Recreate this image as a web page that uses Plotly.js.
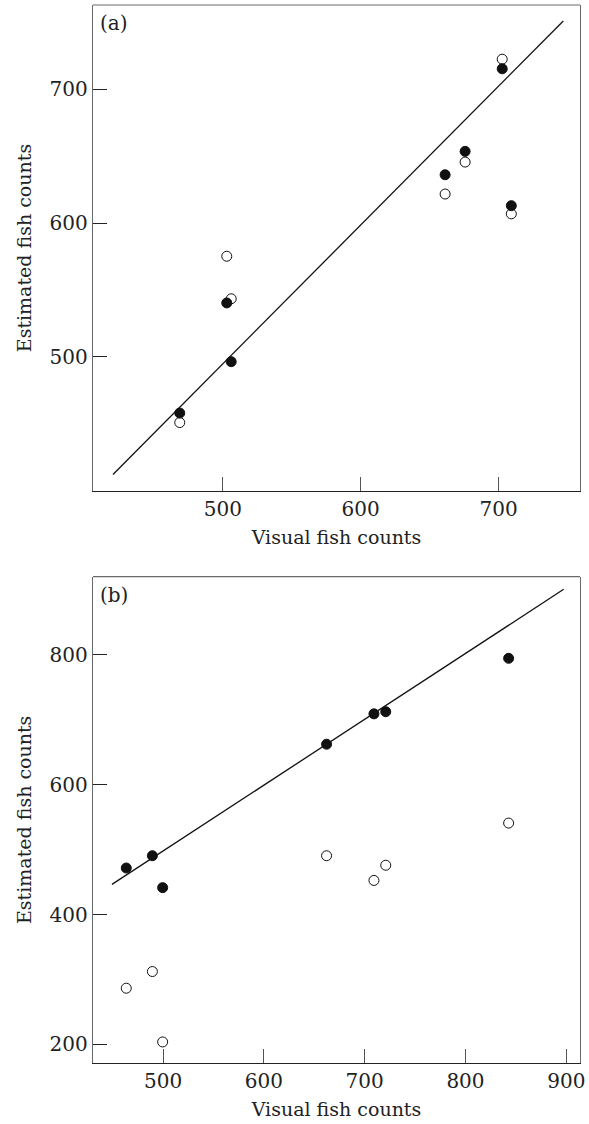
<!DOCTYPE html>
<html>
<head>
<meta charset="utf-8">
<script src="https://cdn.plot.ly/plotly-3.0.1.min.js"></script>
<style>html,body{margin:0;padding:0;background:#fff;}#chart{width:589px;height:1124px;}</style>
</head>
<body>
<div id="chart"></div>
<script>
// Panel (a)
const visualA = [468.8, 502.9, 506.1, 661.2, 675.7, 702.6, 709.2];
const filledA = [458.1, 540.4, 496.5, 636.2, 653.7, 715.4, 613.1];
const openA   = [451.0, 575.3, 543.5, 621.8, 645.7, 722.6, 607.0];
const lineAx  = [420.4, 746.9];
const lineAy  = [412.2, 751.2];
// Panel (b)
const visualB = [463.5, 489.4, 499.6, 662.2, 709.2, 720.9, 842.8];
const filledB = [471.6, 490.5, 441.4, 662.2, 708.9, 712.2, 794.4];
const openB   = [286.6, 312.3, 203.9, 490.5, 452.5, 475.9, 540.8];
const lineBx  = [449.3, 897.4];
const lineBy  = [446.4, 900.6];
// Ticks and labels
const xTicksA = [500, 600, 700];
const yTicksA = [500, 600, 700];
const xTicksB = [500, 600, 700, 800, 900];
const yTicksB = [200, 400, 600, 800];
const xTitle = 'Visual fish counts';
const yTitle = 'Estimated fish counts';
const panelLabels = ['(a)', '(b)'];

const FONT = 'DejaVu Serif, serif';
const filledMarker = {symbol: 'circle', size: 10, color: '#111', line: {color: '#111', width: 1}};
const openMarker = {symbol: 'circle-open', size: 10, color: '#111', line: {color: '#111', width: 1}};

const traces = [
  {x: lineAx, y: lineAy, mode: 'lines', line: {color: '#111', width: 1.3}, xaxis: 'x', yaxis: 'y', hoverinfo: 'skip'},
  {x: visualA, y: openA, mode: 'markers', marker: openMarker, xaxis: 'x', yaxis: 'y'},
  {x: visualA, y: filledA, mode: 'markers', marker: filledMarker, xaxis: 'x', yaxis: 'y'},
  {x: lineBx, y: lineBy, mode: 'lines', line: {color: '#111', width: 1.3}, xaxis: 'x2', yaxis: 'y2', hoverinfo: 'skip'},
  {x: visualB, y: openB, mode: 'markers', marker: openMarker, xaxis: 'x2', yaxis: 'y2'},
  {x: visualB, y: filledB, mode: 'markers', marker: filledMarker, xaxis: 'x2', yaxis: 'y2'}
];

function xAxis(range, ticks, anchor) {
  return {
    range: range, tickvals: ticks, ticktext: ticks.map(String), anchor: anchor,
    showgrid: false, zeroline: false, showline: true, linecolor: '#222', linewidth: 1.2,
    ticks: 'inside', ticklen: 14, tickwidth: 1, tickcolor: '#555',
    tickfont: {family: FONT, size: 20, color: '#222'},
    title: {text: xTitle, font: {family: FONT, size: 19, color: '#222'}, standoff: 10}
  };
}
function yAxis(range, ticks, anchor, domain) {
  return {
    range: range, tickvals: ticks, ticktext: ticks.map(String), anchor: anchor, domain: domain,
    showgrid: false, zeroline: false, showline: true, linecolor: '#6a6a6a', linewidth: 1.2, mirror: true,
    ticks: 'inside', ticklen: 14, tickwidth: 1, tickcolor: '#222',
    tickfont: {family: FONT, size: 20, color: '#222'},
    title: {text: yTitle, font: {family: FONT, size: 19, color: '#222'}, standoff: 13}
  };
}

const layout = {
  width: 589, height: 1124,
  margin: {l: 93, r: 9, t: 5, b: 61},
  paper_bgcolor: '#fff', plot_bgcolor: '#fff',
  showlegend: false,
  xaxis: xAxis([405.9, 759.0], xTicksA, 'y'),
  yaxis: yAxis([399.8, 763.1], yTicksA, 'x', [0.5406, 1]),
  xaxis2: xAxis([430.5, 913.6], xTicksB, 'y2'),
  yaxis2: yAxis([171.5, 920.1], yTicksB, 'x2', [0, 0.4597]),
  shapes: [
    {type: 'line', xref: 'x domain', yref: 'y domain', x0: 0, x1: 1, y0: 1, y1: 1, line: {color: '#6a6a6a', width: 1.2}},
    {type: 'line', xref: 'x2 domain', yref: 'y2 domain', x0: 0, x1: 1, y0: 1, y1: 1, line: {color: '#6a6a6a', width: 1.2}}
  ],
  annotations: [
    {text: panelLabels[0], xref: 'x domain', yref: 'y domain', x: 0.011, y: 0.963, xanchor: 'left', yanchor: 'middle', showarrow: false, font: {family: FONT, size: 20, color: '#222'}},
    {text: panelLabels[1], xref: 'x2 domain', yref: 'y2 domain', x: 0.011, y: 0.963, xanchor: 'left', yanchor: 'middle', showarrow: false, font: {family: FONT, size: 20, color: '#222'}}
  ]
};

Plotly.newPlot('chart', traces, layout, {displayModeBar: false, staticPlot: true});
</script>
</body>
</html>
